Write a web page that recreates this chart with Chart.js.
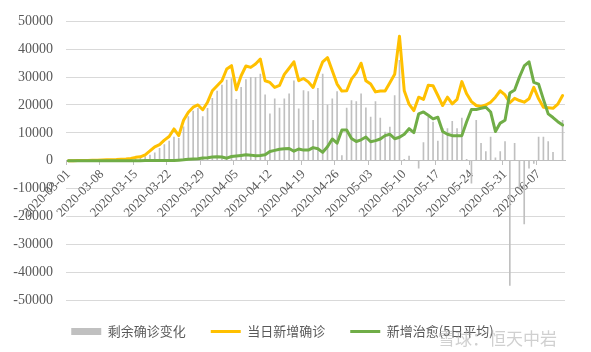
<!DOCTYPE html>
<html>
<head>
<meta charset="utf-8">
<script src="https://cdn.jsdelivr.net/npm/chart.js@4"></script>
<style>
  html, body { margin: 0; padding: 0; background: #fff; }
  #wrap { width: 591px; height: 352px; }
</style>
</head>
<body>
<div id="wrap"><canvas id="covidChart" width="591" height="352"></canvas></div>
<script>
// categories: one per day, 2020-03-01 .. 2020-06-12
const dates = [
  '2020-03-01','2020-03-02','2020-03-03','2020-03-04','2020-03-05','2020-03-06','2020-03-07','2020-03-08','2020-03-09','2020-03-10',
  '2020-03-11','2020-03-12','2020-03-13','2020-03-14','2020-03-15','2020-03-16','2020-03-17','2020-03-18','2020-03-19','2020-03-20',
  '2020-03-21','2020-03-22','2020-03-23','2020-03-24','2020-03-25','2020-03-26','2020-03-27','2020-03-28','2020-03-29','2020-03-30',
  '2020-03-31','2020-04-01','2020-04-02','2020-04-03','2020-04-04','2020-04-05','2020-04-06','2020-04-07','2020-04-08','2020-04-09',
  '2020-04-10','2020-04-11','2020-04-12','2020-04-13','2020-04-14','2020-04-15','2020-04-16','2020-04-17','2020-04-18','2020-04-19',
  '2020-04-20','2020-04-21','2020-04-22','2020-04-23','2020-04-24','2020-04-25','2020-04-26','2020-04-27','2020-04-28','2020-04-29',
  '2020-04-30','2020-05-01','2020-05-02','2020-05-03','2020-05-04','2020-05-05','2020-05-06','2020-05-07','2020-05-08','2020-05-09',
  '2020-05-10','2020-05-11','2020-05-12','2020-05-13','2020-05-14','2020-05-15','2020-05-16','2020-05-17','2020-05-18','2020-05-19',
  '2020-05-20','2020-05-21','2020-05-22','2020-05-23','2020-05-24','2020-05-25','2020-05-26','2020-05-27','2020-05-28','2020-05-29',
  '2020-05-30','2020-05-31','2020-06-01','2020-06-02','2020-06-03','2020-06-04','2020-06-05','2020-06-06','2020-06-07','2020-06-08',
  '2020-06-09','2020-06-10','2020-06-11','2020-06-12'
];

// 剩余确诊变化 (grey bars)
const remainingChange = [
  0,0,0,0,0,0,0,0,0,0,
  0,0,0,0,800,1000,1500,2000,2800,4400,
  5800,7000,8500,8000,12200,15800,17800,18800,15800,18800,
  22400,25000,27100,28900,29500,22000,26300,29100,29900,29900,
  31100,23600,16800,22200,18900,22200,24000,28700,18600,25200,
  24800,14500,26000,31100,20000,22200,24800,1800,18900,21600,
  21200,24000,19000,15700,21200,15300,10300,12100,23400,36000,
  500,1700,0,-2700,6500,15700,13900,7000,11500,11500,
  14100,11500,15300,500,-8100,14500,6200,3300,8500,1000,
  3300,6900,-44800,6200,-9900,-22700,-2700,-1000,8500,8500,
  6900,3000,0,14500
];

// 当日新增确诊 (yellow line)
const newConfirmed = [
  10,20,30,50,100,150,200,250,300,350,
  400,500,600,800,1200,1400,2100,3500,5000,5800,
  7400,8700,11400,9000,14500,17400,19200,20000,18300,21000,
  25100,26900,28700,32900,34100,25500,30500,34000,33500,34700,
  36500,28700,28100,26300,27000,31000,33200,35500,28700,29500,
  28300,26300,31100,35500,37000,32300,27500,25000,25100,29300,
  31500,35000,28700,27500,24700,25000,25000,28000,31000,44700,
  25100,20300,18000,22800,22000,27100,26900,23400,19800,22800,
  20400,22000,28400,24000,21200,19800,19500,20000,21000,22800,
  25100,23600,20800,22400,21600,21000,22200,26300,22200,19200,
  19000,18800,20300,23400
];

// 新增治愈(5日平均) (green line)
const newRecovered5d = [
  0,0,0,0,0,0,0,0,0,0,
  0,0,0,0,0,0,50,50,100,100,
  100,100,100,200,300,500,600,700,1000,1100,
  1300,1400,1300,900,1500,1700,1900,2100,2000,1800,
  1900,2100,3300,3700,4100,4300,4400,3400,4200,3800,
  3800,4700,4300,3000,5000,7800,6300,11000,11000,8000,
  6900,7500,8500,6800,7200,7800,9000,9500,7900,8400,
  9500,11500,10100,16800,17500,16300,15000,15600,10500,9500,
  9000,9000,9000,14000,18400,18400,18800,19200,17500,10500,
  13500,14500,24300,25400,30000,34000,35500,28100,27500,22000,
  16800,15500,14000,12800
];

const seriesNames = ['剩余确诊变化', '当日新增确诊', '新增治愈(5日平均)'];
const yMin = -50000;
const yMax = 50000;
const yStep = 10000;

Chart.defaults.font.family = '"Liberation Serif", "DejaVu Serif", serif';
Chart.defaults.color = '#595959';

// fix the legend box height so the plot ends where the original does
const legendHeight = {
  id: 'legendHeight',
  beforeInit(chart) {
    const origFit = chart.legend.fit;
    chart.legend.fit = function fit() {
      origFit.call(this);
      this.height = 52;
    };
  }
};

// faint site watermark in the lower right corner
const watermark = {
  id: 'watermark',
  afterDraw(chart) {
    const ctx = chart.ctx;
    ctx.save();
    ctx.font = '17px "Noto Sans CJK SC"';
    ctx.fillStyle = 'rgba(170,170,170,0.55)';
    ctx.textBaseline = 'middle';
    ctx.fillText('雪球：恒天中岩', 438, 339);
    ctx.restore();
  }
};

const ctx = document.getElementById('covidChart').getContext('2d');
new Chart(ctx, {
  type: 'bar',
  data: {
    labels: dates,
    datasets: [
      {
        type: 'bar',
        label: seriesNames[0],
        data: remainingChange,
        backgroundColor: '#c0c0c0',
        borderWidth: 0,
        barThickness: 1,
        pointStyle: 'rect',
        order: 3
      },
      {
        type: 'line',
        label: seriesNames[1],
        data: newConfirmed,
        borderColor: '#ffc000',
        backgroundColor: '#ffc000',
        borderWidth: 3,
        pointRadius: 0,
        tension: 0,
        borderJoinStyle: 'round',
        borderCapStyle: 'round',
        pointStyle: 'line',
        order: 2
      },
      {
        type: 'line',
        label: seriesNames[2],
        data: newRecovered5d,
        borderColor: '#70ad47',
        backgroundColor: '#70ad47',
        borderWidth: 3,
        pointRadius: 0,
        tension: 0,
        borderJoinStyle: 'round',
        borderCapStyle: 'round',
        pointStyle: 'line',
        order: 1
      }
    ]
  },
  options: {
    responsive: false,
    animation: false,
    layout: { padding: { left: 0, right: 26, top: 18, bottom: 0 } },
    plugins: {
      tooltip: { enabled: false },
      legend: {
        position: 'bottom',
        labels: {
          usePointStyle: true,
          pointStyleWidth: 30,
          boxHeight: 7,
          padding: 25,
          color: '#595959',
          font: { family: '"Noto Sans CJK SC", sans-serif', size: 13 },
          sort: (a, b) => a.datasetIndex - b.datasetIndex
        }
      }
    },
    scales: {
      x: {
        position: { y: 0 },
        grid: {
          drawOnChartArea: false,
          drawTicks: true,
          tickLength: 4,
          color: c => (c.index % 7 === 0 ? '#bfbfbf' : 'rgba(0,0,0,0)')
        },
        border: { display: true, color: '#bfbfbf', width: 1 },
        ticks: {
          autoSkip: false,
          minRotation: 45,
          maxRotation: 45,
          padding: 2,
          color: '#595959',
          font: { size: 13 },
          callback: function (val, index) {
            return index % 7 === 0 ? this.getLabelForValue(val) : '';
          }
        }
      },
      y: {
        min: yMin,
        max: yMax,
        afterFit: scale => { scale.width = 66; },
        grid: { color: '#d9d9d9', drawTicks: false },
        border: { display: false },
        ticks: {
          stepSize: yStep,
          padding: 13,
          color: '#595959',
          font: { size: 14 },
          callback: v => String(v)
        }
      }
    }
  },
  plugins: [legendHeight, watermark]
});
</script>
</body>
</html>
